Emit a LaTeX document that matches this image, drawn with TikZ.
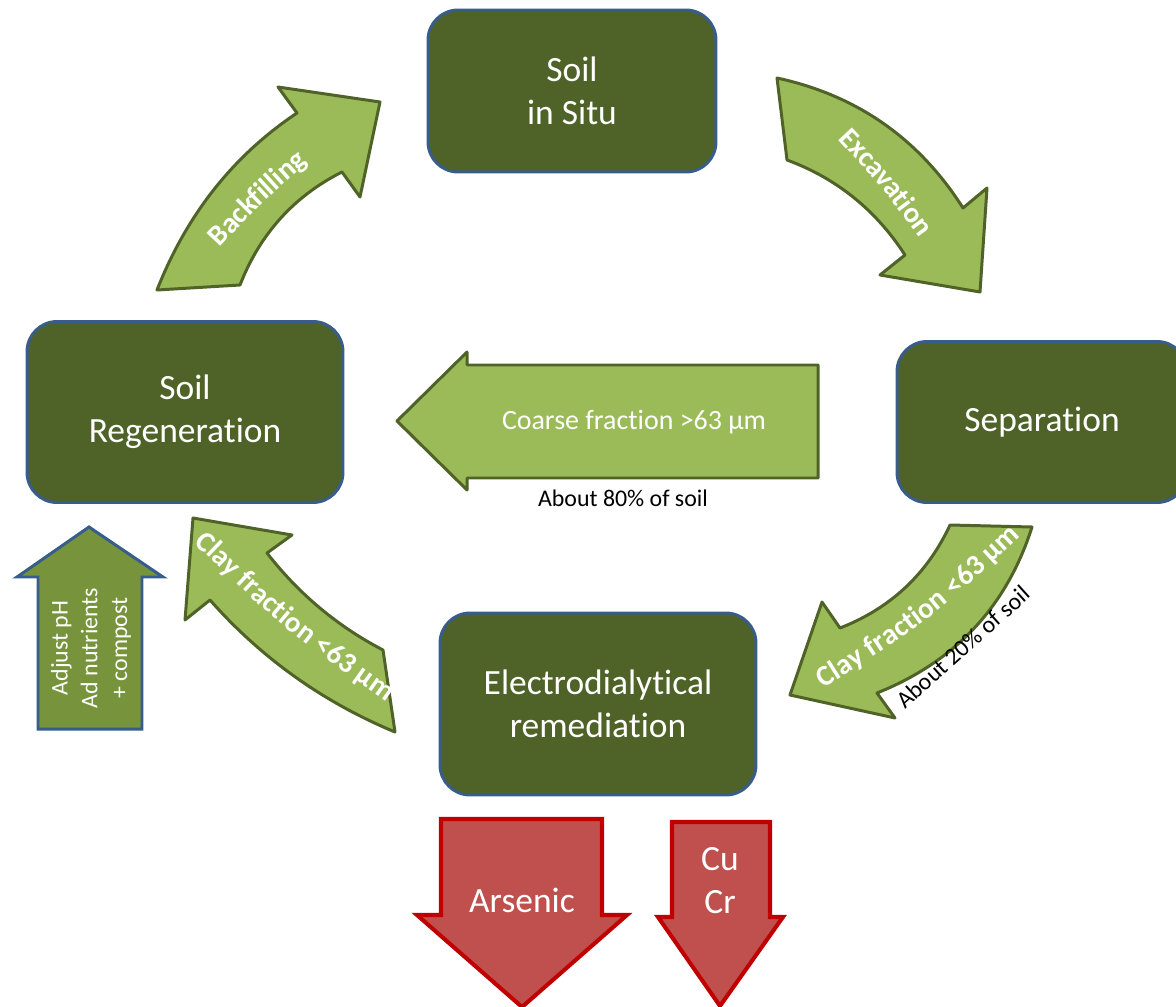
\documentclass[tikz,border=0pt]{standalone}
\usepackage{fontspec}
\setmainfont{Carlito}[Ligatures={NoCommon,NoContextual}]
\usetikzlibrary{decorations.text}

\definecolor{stagefill}{RGB}{79,98,40}
\definecolor{stageline}{RGB}{56,93,138}
\definecolor{flowfill}{RGB}{155,187,89}
\definecolor{flowline}{RGB}{79,98,40}
\definecolor{addfill}{RGB}{119,147,60}
\definecolor{metalfill}{RGB}{192,80,77}
\definecolor{metalline}{RGB}{192,0,0}

\newcommand\stagefont{\fontsize{20.2}{24.4}\selectfont}
\newcommand\bandfont{\bfseries\fontsize{16.5}{20}\selectfont}
\newcommand\coarsefont{\fontsize{15.9}{19}\selectfont}
\newcommand\notefont{\fontsize{13.6}{16.5}\selectfont}
\newcommand\addfont{\fontsize{13.6}{17}\selectfont}

\tikzset{
  stage/.style={draw=stageline, line width=1.7pt, fill=stagefill, rounded corners=0.6cm,
    text=white, align=center, font=\stagefont},
  flow/.style={draw=flowline, line width=1.7pt, fill=flowfill, line join=round},
  metal/.style={draw=metalline, line width=2.3pt, fill=metalfill, line join=miter},
  band/.style={decorate, decoration={text along path, text align=center, raise=-5.5pt,
    text color=white, text={|\bandfont|#1}}}
}

\begin{document}
\begin{tikzpicture}[x=0.02cm, y=-0.02cm]
  \useasboundingbox (0,0) rectangle (1176,1007);

  % process stages
  \node[stage, minimum width=5.76cm, minimum height=3.24cm] (insitu) at (572,91) {Soil\\in Situ};
  \node[stage, minimum width=5.80cm, minimum height=3.22cm] (separation) at (1042,422) {Separation};
  \node[stage, minimum width=6.32cm, minimum height=3.64cm] (electro) at (598,704) {Electrodialytical\\remediation};
  \node[stage, minimum width=6.32cm, minimum height=3.62cm] (regen) at (185,412) {Soil\\Regeneration};

  % curved block arrows of the loop
  \draw[flow] (157,290) .. controls (186.7,214.5) and (233.3,155.5) .. (297,113) -- (278,87)
    -- (380,102) -- (360,197) -- (342,172)
    .. controls (294,196.2) and (260,233.8) .. (240,285) -- cycle;
  \draw[flow] (777,78) .. controls (857,95.3) and (919,138.7) .. (963,208) -- (987,188)
    -- (980,292) -- (880,275) -- (905,255)
    .. controls (875.7,209.8) and (836.3,178.2) .. (787,160) -- cycle;
  \draw[flow] (1032,527) .. controls (1006.8,606.3) and (955.2,661.7) .. (877,693)
    -- (895,718) -- (790,695) -- (822,602) -- (840,628)
    .. controls (890.7,608.2) and (927.3,573.8) .. (950,525) -- cycle;
  \draw[flow] (193,518) -- (292,535) -- (267,553)
    .. controls (298.7,593.8) and (337.3,626.2) .. (383,650) -- (395,732)
    .. controls (322.8,702) and (261.2,658) .. (210,600) -- (185,620) -- cycle;

  \path[band=Backfilling] (200,255) .. controls (255,196) .. (316,143);
  \path[band=Excavation] (830,117) .. controls (889,180) .. (940,250);
  \path[band={Clay fraction <63 µm}] (798,693) .. controls (925,613) .. (1032,513);
  \path[band={Clay fraction <63 µm}] (189,525) .. controls (290,622) .. (405,703);
  \node[font=\notefont, rotate=42] (clayshare) at (963,647) {About 20\% of soil};

  % coarse fraction back to regeneration
  \draw[flow] (467,365) -- (818,365) -- (818,478) -- (467,478) -- (467,490)
    -- (397,421) -- (467,352) -- cycle;
  \node[font=\coarsefont, text=white] (coarse) at (634,422) {Coarse fraction >63 µm};
  \node[font=\notefont] (coarseshare) at (623,498) {About 80\% of soil};

  % additions
  \draw[draw=stageline, line width=1.7pt, fill=addfill] (38,577) -- (17,577) -- (89,527)
    -- (163,577) -- (142,577) -- (142,729) -- (38,729) -- cycle;
  \node[font=\addfont, text=white, align=center, rotate=90] (additions) at (91,648)
    {Adjust pH\\Ad nutrients\\+ compost};

  % removed metals
  \draw[metal] (441,819) -- (602,819) -- (602,915) -- (627,915) -- (522,1007)
    -- (417,915) -- (441,915) -- cycle;
  \draw[metal] (672,822) -- (770,822) -- (770,917) -- (783,917) -- (720,1006)
    -- (658,917) -- (672,917) -- cycle;
  \node[font=\stagefont, text=white] (arsenic) at (522,900) {Arsenic};
  \node[font=\stagefont, text=white, align=center] (cucr) at (720,881) {Cu\\Cr};
\end{tikzpicture}
\end{document}
